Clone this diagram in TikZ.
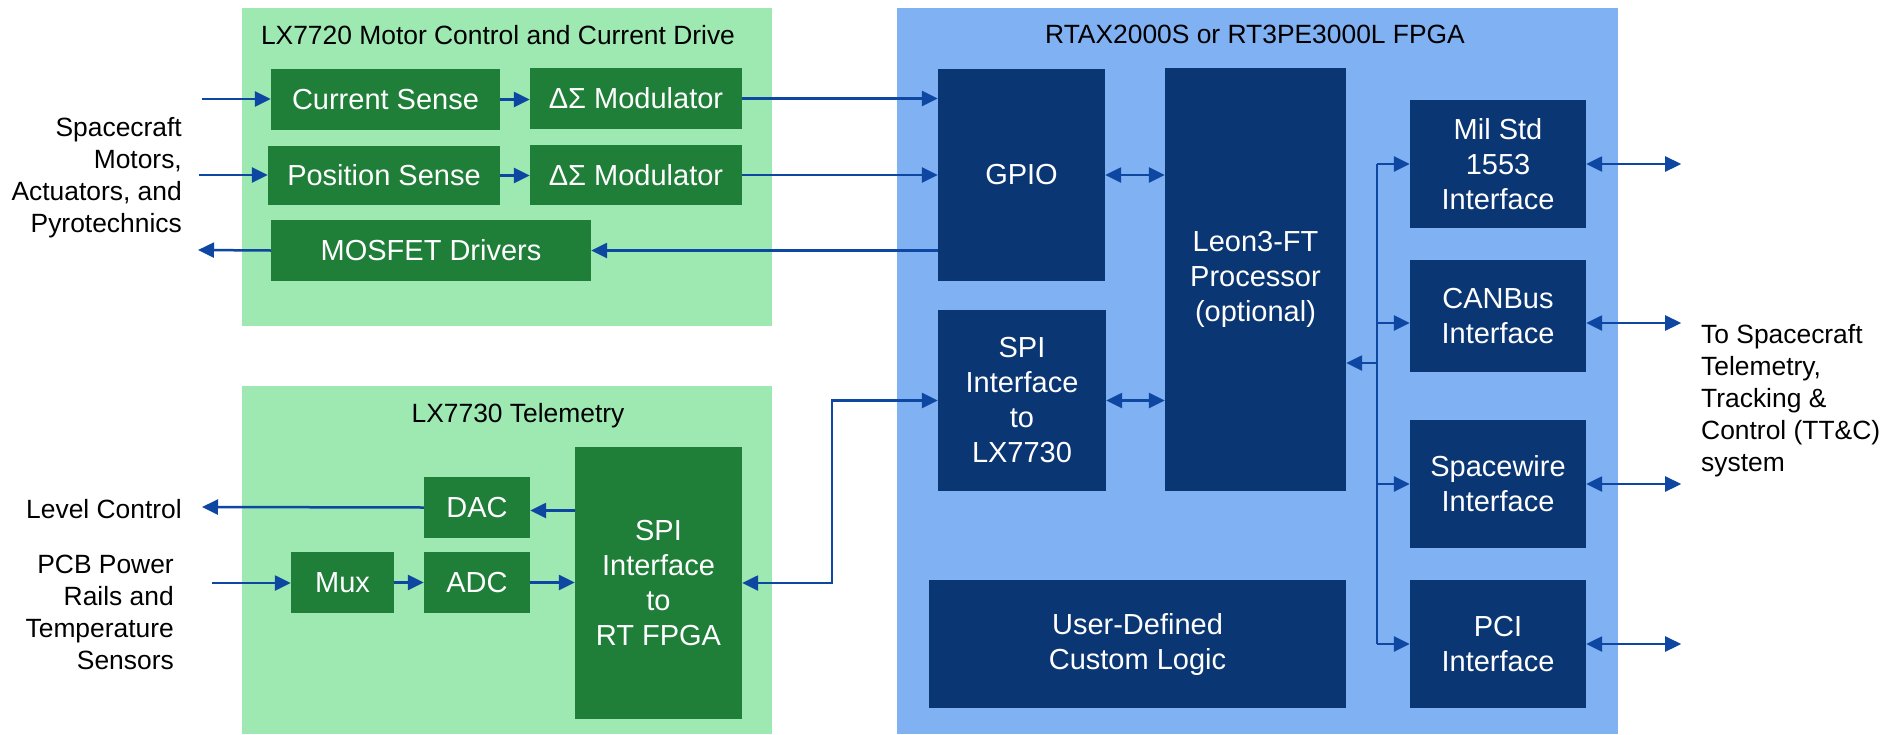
\documentclass[tikz,border=0pt]{standalone}
\usepackage{fontspec}
\setmainfont{Liberation Sans}
\usetikzlibrary{arrows.meta}
\definecolor{lgreen}{HTML}{9DE9B1}
\definecolor{dgreen}{HTML}{1F7F38}
\definecolor{lblue}{HTML}{80B1F3}
\definecolor{navy}{HTML}{0B3674}
\definecolor{arrowblue}{HTML}{0D47A1}
\newcommand\bxfont{\fontsize{29}{35}\selectfont}
\newcommand\lbfont{\fontsize{26.4}{32}\selectfont}
\tikzset{
  gbox/.style={fill=dgreen, text=white, font=\bxfont, align=center, inner sep=0pt},
  bbox/.style={fill=navy, text=white, font=\bxfont, align=center, inner sep=0pt},
  lab/.style={font=\lbfont, text=black, inner sep=0pt},
  tip/.tip={Triangle[length=16pt,width=15pt]},
  arr/.style={draw=arrowblue, line width=2.5pt, -tip},
  darr/.style={draw=arrowblue, line width=2.5pt, tip-tip},
  busline/.style={draw=arrowblue, line width=2.2pt},
}
\begin{document}
\begin{tikzpicture}[x=1pt,y=-1pt]
\useasboundingbox (0,0) rectangle (1885,734);
\fill[white] (0,0) rectangle (1885,734);
% containers
\fill[lgreen] (242,8) rectangle (772,326);
\fill[lgreen] (242,386) rectangle (772,734);
\fill[lblue] (897,8) rectangle (1618,734);
% titles
\node[lab, anchor=base] (t1) at (498,44) {LX7720 Motor Control and Current Drive};
\node[lab, anchor=base] (t2) at (518,422) {LX7730 Telemetry};
\node[lab, anchor=base] (t3) at (1255,43) {RTAX2000S or RT3PE3000L FPGA};
% LX7720 blocks
\node[gbox, minimum width=229pt, minimum height=61pt] (cs) at (385.5,99.5) {Current Sense};
\node[gbox, minimum width=232pt, minimum height=59pt] (ps) at (384,175.5) {Position Sense};
\node[gbox, minimum width=212pt, minimum height=61pt] (mod1) at (636,98.5) {ΔΣ Modulator};
\node[gbox, minimum width=212pt, minimum height=60pt] (mod2) at (636,175) {ΔΣ Modulator};
\node[gbox, minimum width=320pt, minimum height=61pt] (mos) at (431,250.5) {MOSFET Drivers};
% LX7730 blocks
\node[gbox, minimum width=106pt, minimum height=61pt] (dac) at (477,507.5) {DAC};
\node[gbox, minimum width=103pt, minimum height=61pt] (mux) at (342.5,582.5) {Mux};
\node[gbox, minimum width=106pt, minimum height=61pt] (adc) at (477,582.5) {ADC};
\node[gbox, minimum width=167pt, minimum height=272pt] (spirt) at (658.5,583) {SPI\\Interface\\to\\RT FPGA};
% FPGA blocks
\node[bbox, minimum width=167pt, minimum height=212pt] (gpio) at (1021.5,175) {GPIO};
\node[bbox, minimum width=168pt, minimum height=181pt] (spilx) at (1022,400.5) {SPI\\Interface\\to\\LX7730};
\node[bbox, minimum width=181pt, minimum height=423pt] (leon) at (1255.5,279.5) {Leon3-FT\\Processor\\(optional)};
\node[bbox, minimum width=417pt, minimum height=128pt] (user) at (1137.5,644) {User-Defined\\Custom Logic};
\node[bbox, minimum width=176pt, minimum height=128pt] (mil) at (1498,164) {Mil Std\\1553\\Interface};
\node[bbox, minimum width=176pt, minimum height=112pt] (can) at (1498,316) {CANBus\\Interface};
\node[bbox, minimum width=176pt, minimum height=128pt] (spw) at (1498,484) {Spacewire\\Interface};
\node[bbox, minimum width=176pt, minimum height=128pt] (pci) at (1498,644) {PCI\\Interface};
% outside labels
\node[lab, anchor=east, align=right] (lsc) at (182,177.6) {Spacecraft\\Motors,\\Actuators, and\\Pyrotechnics};
\node[lab, anchor=base east] (llc) at (182,518) {Level Control};
\node[lab, anchor=east, align=right] (lpcb) at (174,612.4) {PCB Power\\Rails and\\Temperature\\Sensors};
\node[lab, anchor=west, align=left] (ltt) at (1701,400.6) {To Spacecraft\\Telemetry,\\Tracking \&\\Control (TT\&C)\\system};
% free ends
\coordinate (incs) at (202,99);
\coordinate (inps) at (199,175);
\coordinate (outmos) at (198,250);
\coordinate (outlc) at (202,507);
\coordinate (inmux) at (212,583);
\coordinate (bt) at (1377,164);
\coordinate (bl) at (1377,363);
\coordinate (bb) at (1377,644);
% LX7720 connectors
\draw[arr] (incs) -- (incs -| cs.west);
\draw[arr] (inps) -- (inps -| ps.west);
\draw[arr] (mos.west) -- (outmos);
\draw[arr] (cs.east) -- (cs.east -| mod1.west);
\draw[arr] (ps.east) -- (ps.east -| mod2.west);
\draw[arr] (mod1.east) -- (mod1.east -| gpio.west);
\draw[arr] (mod2.east) -- (mod2.east -| gpio.west);
\draw[arr] (mos.east -| gpio.west) -- (mos.east);
% LX7730 connectors
\draw[arr] (dac.west) -- (outlc);
\draw[arr] ([yshift=-3pt]dac.east -| spirt.west) -- ([yshift=-3pt]dac.east);
\draw[arr] (inmux) -- (inmux -| mux.west);
\draw[arr] (mux.east) -- (adc.west);
\draw[arr] (adc.east) -- (adc.east -| spirt.west);
\draw[darr] (spirt.east) -- ++(90,0) |- (spilx.west);
% FPGA internal
\draw[darr] (gpio.east) -- (gpio.east -| leon.west);
\draw[darr] (spilx.east) -- (spilx.east -| leon.west);
\draw[busline] (bt) -- (bb);
\draw[arr] (bl) -- (bl -| leon.east);
\draw[arr] (bt) -- (mil.west);
\draw[arr] ([yshift=-7pt]can.west -| bt) -- ([yshift=-7pt]can.west);
\draw[arr] (spw.west -| bt) -- (spw.west);
\draw[arr] (bb) -- (pci.west);
% external bidirectional
\draw[darr] (mil.east) -- ++(95,0);
\draw[darr] ([yshift=-7pt]can.east) -- ++(95,0);
\draw[darr] (spw.east) -- ++(95,0);
\draw[darr] (pci.east) -- ++(95,0);
\end{tikzpicture}
\end{document}
